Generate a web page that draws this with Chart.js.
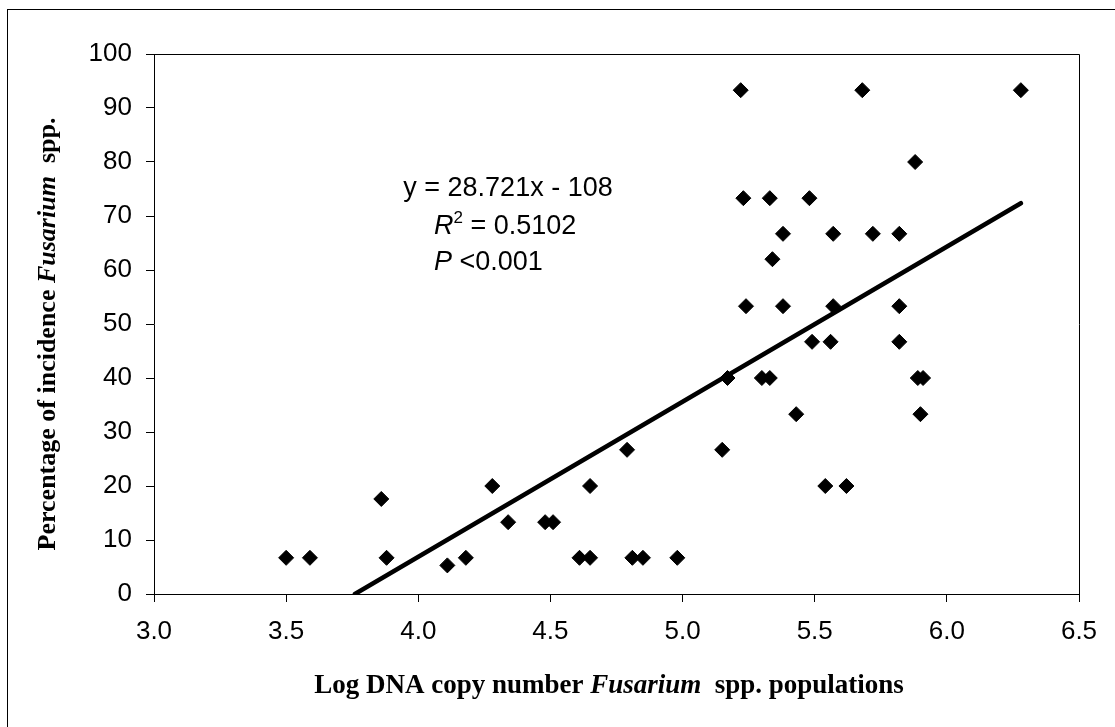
<!DOCTYPE html>
<html>
<head>
<meta charset="utf-8">
<script src="https://cdn.jsdelivr.net/npm/chart.js@4/dist/chart.umd.min.js"></script>
<style>
  html, body { margin: 0; padding: 0; background: #fff; }
  #wrap { width: 1115px; height: 727px; }
</style>
</head>
<body>
<div id="wrap"><canvas id="dna-chart" width="1115" height="727"></canvas></div>
<script>
// log DNA copy number vs. incidence (%) for each sample
const logDna = [
  3.50, 3.59, 3.86, 3.88, 4.11, 4.18, 4.28, 4.34, 4.48, 4.51,
  4.61, 4.65, 4.65, 4.79, 4.81, 4.85, 4.98,
  5.15, 5.17, 5.30, 5.33, 5.89, 5.91, 5.43, 5.90, 5.54, 5.62,
  5.49, 5.56, 5.82, 5.24, 5.38, 5.57, 5.82,
  5.22, 5.68, 6.28, 5.88, 5.23, 5.33, 5.48, 5.38, 5.57, 5.72, 5.82, 5.34
];
const incidence = [
  6.7, 6.7, 17.6, 6.7, 5.3, 6.7, 20.0, 13.3, 13.3, 13.3,
  6.7, 6.7, 20.0, 26.7, 6.7, 6.7, 6.7,
  26.7, 40.0, 40.0, 40.0, 40.0, 40.0, 33.3, 33.3, 20.0, 20.0,
  46.7, 46.7, 46.7, 53.3, 53.3, 53.3, 53.3,
  93.3, 93.3, 93.3, 80.0, 73.3, 73.3, 73.3, 66.7, 66.7, 66.7, 66.7, 62.0
];

// linear fit reported on the chart
const slope = 28.721;
const intercept = -108;
const xTicks = [3.0, 3.5, 4.0, 4.5, 5.0, 5.5, 6.0, 6.5];
const yTicks = [0, 10, 20, 30, 40, 50, 60, 70, 80, 90, 100];

const sans = '"Liberation Sans", Arial, sans-serif';
const serif = '"Liberation Serif", "Times New Roman", serif';

const points = logDna.map((x, i) => ({ x: x, y: incidence[i] }));
// fit line runs from where it crosses 0 up to the largest x value
const fitStart = -intercept / slope;
const fitEnd = Math.max(...logDna);
const fitLine = [fitStart, fitEnd].map(x => ({ x: x, y: slope * x + intercept }));

// draws a run of text pieces with their own fonts, left to right
function drawPieces(ctx, pieces, x, y) {
  pieces.forEach(p => {
    ctx.font = p.font;
    ctx.fillText(p.text, x, y + (p.dy || 0));
    x += ctx.measureText(p.text).width;
  });
}
function piecesWidth(ctx, pieces) {
  let w = 0;
  pieces.forEach(p => { ctx.font = p.font; w += ctx.measureText(p.text).width; });
  return w;
}

const decorations = {
  id: 'decorations',
  afterDraw(chart) {
    const ctx = chart.ctx;
    const area = chart.chartArea;
    ctx.save();
    ctx.strokeStyle = '#000';
    ctx.lineWidth = 1;
    // outer frame
    ctx.strokeRect(7.5, 9.5, 1200, 800);
    // plot frame top and right
    ctx.beginPath();
    ctx.moveTo(Math.round(area.left) + 0.5, Math.round(area.top) + 0.5);
    ctx.lineTo(Math.round(area.right) + 0.5, Math.round(area.top) + 0.5);
    ctx.lineTo(Math.round(area.right) + 0.5, Math.round(area.bottom) + 0.5);
    ctx.stroke();

    ctx.fillStyle = '#000';
    ctx.textBaseline = 'alphabetic';
    ctx.textAlign = 'left';

    // x axis title
    const xTitle = [
      { text: 'Log DNA copy number ', font: 'bold 27px ' + serif },
      { text: 'Fusarium', font: 'italic bold 27px ' + serif },
      { text: '  spp. populations', font: 'bold 27px ' + serif }
    ];
    const xw = piecesWidth(ctx, xTitle);
    drawPieces(ctx, xTitle, 609 - xw / 2, 693);

    // y axis title
    const yTitle = [
      { text: 'Percentage of incidence ', font: 'bold 26px ' + serif },
      { text: 'Fusarium', font: 'italic bold 26px ' + serif },
      { text: '  spp.', font: 'bold 26px ' + serif }
    ];
    const yw = piecesWidth(ctx, yTitle);
    ctx.save();
    ctx.translate(55, 334);
    ctx.rotate(-Math.PI / 2);
    drawPieces(ctx, yTitle, -yw / 2, 0);
    ctx.restore();

    // regression text
    const eq = [{ text: 'y = ' + slope + 'x - ' + (-intercept), font: '27px ' + sans }];
    drawPieces(ctx, eq, 508 - piecesWidth(ctx, eq) / 2, 196);
    drawPieces(ctx, [
      { text: 'R', font: 'italic 27px ' + sans },
      { text: '2', font: '17px ' + sans, dy: -11 },
      { text: ' = 0.5102', font: '27px ' + sans }
    ], 434, 234);
    drawPieces(ctx, [
      { text: 'P', font: 'italic 27px ' + sans },
      { text: ' <0.001', font: '27px ' + sans }
    ], 434, 270);
    ctx.restore();
  }
};

new Chart(document.querySelector('#dna-chart').getContext('2d'), {
  type: 'scatter',
  data: {
    datasets: [
      {
        label: 'Fit',
        type: 'line',
        data: fitLine,
        borderColor: '#000',
        borderWidth: 4.5,
        borderCapStyle: 'round',
        pointRadius: 0,
        fill: false,
        tension: 0
      },
      {
        label: 'Samples',
        data: points,
        pointStyle: 'rectRot',
        pointRadius: 7.5,
        pointBorderWidth: 1,
        backgroundColor: '#000',
        borderColor: '#000'
      }
    ]
  },
  options: {
    responsive: false,
    animation: false,
    layout: { padding: { top: 54, right: 36, left: 0, bottom: 0 } },
    plugins: {
      legend: { display: false },
      tooltip: { enabled: false }
    },
    scales: {
      x: {
        type: 'linear',
        min: xTicks[0],
        max: xTicks[xTicks.length - 1],
        afterBuildTicks: scale => { scale.ticks = xTicks.map(v => ({ value: v })); },
        afterFit: scale => { scale.height = 133; },
        ticks: {
          callback: v => Number(v).toFixed(1),
          color: '#000',
          font: { family: sans, size: 26 },
          padding: 14,
          maxRotation: 0
        },
        grid: { drawOnChartArea: false, drawTicks: true, tickLength: 8, tickColor: '#000', tickWidth: 1 },
        border: { color: '#000', width: 1 }
      },
      y: {
        min: yTicks[0],
        max: yTicks[yTicks.length - 1],
        afterBuildTicks: scale => { scale.ticks = yTicks.map(v => ({ value: v })); },
        afterFit: scale => { scale.width = 154; },
        ticks: {
          color: '#000',
          font: { family: sans, size: 26 },
          padding: 14
        },
        grid: { drawOnChartArea: false, drawTicks: true, tickLength: 8, tickColor: '#000', tickWidth: 1 },
        border: { color: '#000', width: 1 }
      }
    }
  },
  plugins: [decorations]
});
</script>
</body>
</html>
